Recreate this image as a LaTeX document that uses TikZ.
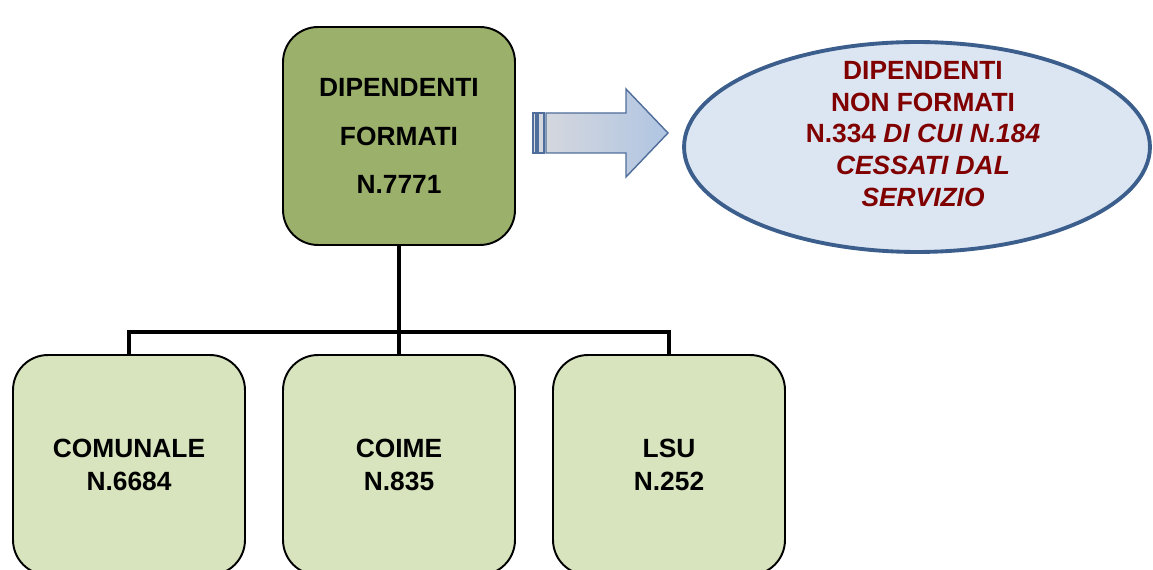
\documentclass[tikz,border=0pt]{standalone}
\usepackage{fontspec}
\setmainfont{Liberation Sans}
\usepackage{tikz}
\usetikzlibrary{shapes.geometric}
\definecolor{formGreen}{RGB}{155,176,106}
\definecolor{subGreen}{RGB}{215,228,189}
\definecolor{nonBlue}{RGB}{220,230,242}
\definecolor{nonEdge}{RGB}{59,94,140}
\definecolor{nonRed}{RGB}{128,0,0}
\definecolor{arrowLeft}{RGB}{212,215,222}
\definecolor{arrowRight}{RGB}{176,197,226}
\definecolor{arrowEdge}{RGB}{80,110,155}

\begin{document}
\begin{tikzpicture}[x=0.02cm,y=-0.02cm,
        topbox/.style={draw,line width=1.1pt,rounded corners=0.7cm,fill=formGreen,
          minimum width=4.64cm,minimum height=4.36cm,align=center,
          font=\fontsize{15}{27.8}\selectfont\bfseries},
        subbox/.style={draw,line width=1.1pt,rounded corners=0.7cm,fill=subGreen,
          minimum width=4.64cm,minimum height=4.4cm,align=center,
          font=\fontsize{15}{18.5}\selectfont\bfseries},
        link/.style={line width=2.8pt}]
        \useasboundingbox (0,0) rectangle (1153,570);
        \clip (0,0) rectangle (1153,570);
        % boxes
        \node[topbox] (formati) at (399,136) {DIPENDENTI\\FORMATI\\N.7771};
        \node[subbox] (comunale) at (129,465) {COMUNALE\\N.6684};
        \node[subbox] (coime) at (399,465) {COIME\\N.835};
        \node[subbox] (lsu) at (669,465) {LSU\\N.252};
        % tree lines
        \coordinate (split) at (399,332);
        \draw[link] (formati.south) -- (split);
        \draw[link] (split) -| (comunale.north);
        \draw[link] (split) -| (lsu.north);
        \draw[link] (split) -- (coime.north);
        % block arrow
        \shade[left color=arrowLeft,right color=arrowRight,draw=arrowEdge,line width=0.8pt]
          (546,113) -- (626,113) -- (626,89) -- (668,133) -- (626,177) -- (626,153) -- (546,153) -- cycle;
        \shade[left color=arrowLeft,right color=arrowLeft,draw=arrowEdge,line width=0.8pt]
          (533,113) rectangle (536,153);
        \shade[left color=arrowLeft,right color=arrowLeft,draw=arrowEdge,line width=0.8pt]
          (538,113) rectangle (544,153);
        % ellipse
        \node[ellipse,draw=nonEdge,line width=2.2pt,fill=nonBlue,
          minimum width=9.32cm,minimum height=4.2cm] (nonformati) at (917,147) {};
        \node[align=center,text=nonRed,font=\fontsize{15}{18.1}\selectfont\bfseries] (nftext) at (923,134)
          {DIPENDENTI\\NON FORMATI\\N.334 \textit{DI CUI N.184}\\\textit{CESSATI DAL}\\\textit{SERVIZIO}};
        \end{tikzpicture}
\end{document}
